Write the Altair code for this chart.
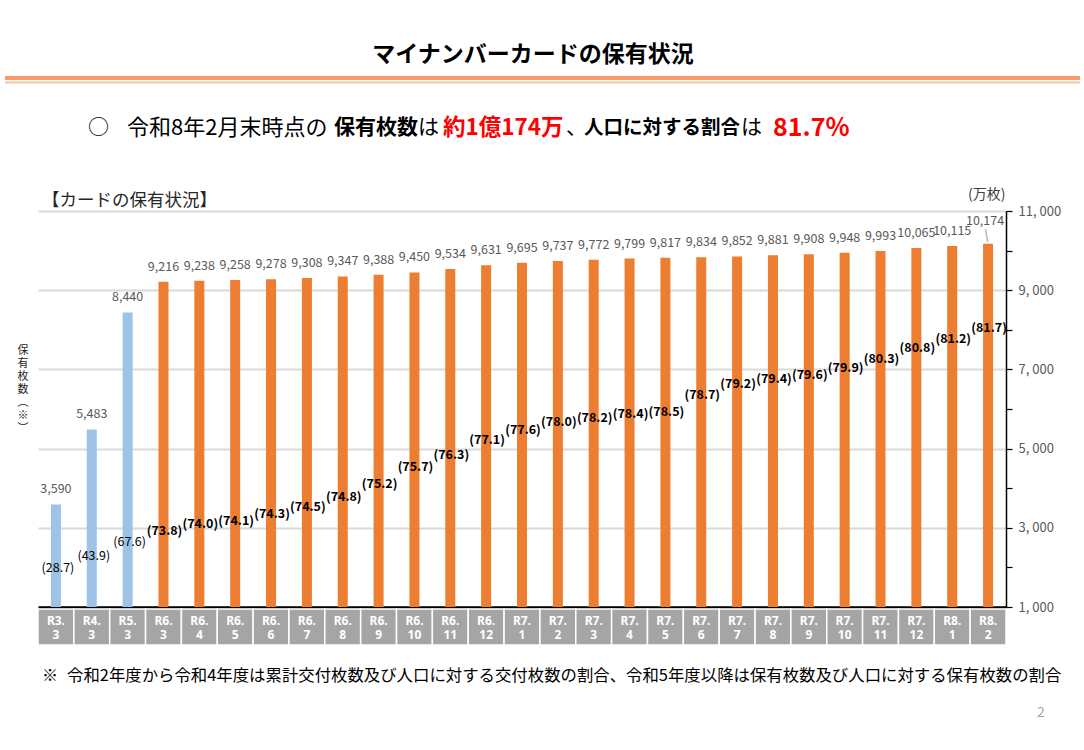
import altair as alt
import pandas as pd

# ---------------- data ----------------
period_year = ["R3.", "R4.", "R5."] + ["R6."] * 10 + ["R7."] * 12 + ["R8."] * 2
period_month = ["3", "3", "3",
                "3", "4", "5", "6", "7", "8", "9", "10", "11", "12",
                "1", "2", "3", "4", "5", "6", "7", "8", "9", "10", "11", "12",
                "1", "2"]
holdings = [3590, 5483, 8440,
            9216, 9238, 9258, 9278, 9308, 9347, 9388, 9450, 9534, 9631,
            9695, 9737, 9772, 9799, 9817, 9834, 9852, 9881, 9908, 9948, 9993, 10065,
            10115, 10174]
ratios = [28.7, 43.9, 67.6,
          73.8, 74.0, 74.1, 74.3, 74.5, 74.8, 75.2, 75.7, 76.3, 77.1,
          77.6, 78.0, 78.2, 78.4, 78.5, 78.7, 79.2, 79.4, 79.6, 79.9, 80.3, 80.8,
          81.2, 81.7]
kinds = ["交付"] * 3 + ["保有"] * 24
y_ticks = list(range(1000, 11001, 1000))

title_text = "マイナンバーカードの保有状況"
sub_parts = [  # (text, bold, red)
    ("○", False, False),
    ("令和8年2月末時点の", False, False),
    ("保有枚数", True, False),
    ("は", False, False),
    ("約1億174万", True, True),
    ("、", False, False),
    ("人口に対する割合", True, False),
    ("は", False, False),
    ("81.7%", True, True),
]
section_text = "【カードの保有状況】"
unit_text = "(万枚)"
ylabel_chars = ["保", "有", "枚", "数", "︵", "※", "︶"]
note_mark = "※"
note_text = "令和2年度から令和4年度は累計交付枚数及び人口に対する交付枚数の割合、令和5年度以降は保有枚数及び人口に対する保有枚数の割合"
page_no = "2"

df = pd.DataFrame({
    "year": period_year,
    "month": period_month,
    "holdings": holdings,
    "ratio": ratios,
    "kind": kinds,
})
df["cat"] = df["year"] + df["month"]
df["pct"] = ["(" + f"{r:.1f}" + ")" for r in ratios]
df["last"] = [i == len(holdings) - 1 for i in range(len(holdings))]
cats = list(df["cat"])

# ---------------- layout / style ----------------
W, H = 968, 396
FONT = "Noto Sans CJK JP"
BLUE = "#9DC3E6"
ORANGE = "#ED7D31"
PCT_DOMAIN = [28.7, 43.9, 67.6, 73.8, 75.7, 78.5, 78.7, 81.7]
PCT_RANGE = [357, 345, 331, 320, 256, 201, 184, 117]

xenc = alt.X("cat:N", sort=cats, scale=alt.Scale(paddingInner=0, paddingOuter=0),
             axis=alt.Axis(labels=False, ticks=False, title=None, grid=False,
                           domainColor="#000000", domainWidth=2.5))
yscale = alt.Scale(domain=[1000, 11000], nice=False, zero=False)

base = alt.Chart(df)

bars = base.mark_bar(size=10).encode(
    x=xenc,
    y=alt.Y("holdings:Q", scale=yscale,
            axis=alt.Axis(orient="right", values=y_ticks, title=None,
                          labelExpr="datum.value % 2000 == 1000 ? replace(format(datum.value, ','), ',', ', ') : ''",
                          gridOpacity={"condition": {"test": "datum.value % 2000 == 1000", "value": 1}, "value": 0},
                          gridColor="#D9D9D9", gridWidth=2,
                          domainColor="#000000", domainWidth=1.5,
                          tickColor="#000000", tickSize=6, tickWidth=1.2,
                          labelColor="#595959", labelFont=FONT, labelFontSize=13,
                          labelPadding=6)),
    y2=alt.datum(1000),
    color=alt.Color("kind:N", scale=alt.Scale(domain=["交付", "保有"], range=[BLUE, ORANGE]), legend=None),
)

value_labels = base.transform_filter("!datum.last").mark_text(
    baseline="bottom", dy=-8, fontSize=12.5, color="#595959", font=FONT).encode(
    x=alt.X("cat:N", sort=cats),
    y=alt.Y("holdings:Q", scale=yscale, axis=None),
    text=alt.Text("holdings:Q", format=","),
)
value_label_last = base.transform_filter("datum.last").mark_text(
    baseline="bottom", dy=-16, dx=-3, fontSize=12.5, color="#595959", font=FONT).encode(
    x=alt.X("cat:N", sort=cats),
    y=alt.Y("holdings:Q", scale=yscale, axis=None),
    text=alt.Text("holdings:Q", format=","),
)
leader = base.transform_filter("datum.last").mark_text(
    baseline="bottom", dy=-2, dx=0, fontSize=13, color="#A6A6A6", font="DejaVu Sans", angle=350).encode(
    x=alt.X("cat:N", sort=cats),
    y=alt.Y("holdings:Q", scale=yscale, axis=None),
    text=alt.value("|"),
)

pct_scale = alt.Scale(domain=PCT_DOMAIN, range=PCT_RANGE, zero=False, nice=False)
pct_blue = base.transform_filter("datum.kind == '交付'").mark_text(
    baseline="middle", dx=2, fontSize=12.5, color="#000000", font=FONT).encode(
    x=alt.X("cat:N", sort=cats),
    y=alt.Y("ratio:Q", scale=pct_scale, axis=None),
    text="pct:N",
)
pct_orange = base.transform_filter("datum.kind == '保有'").mark_text(
    baseline="middle", dx=1, fontSize=12.5, fontWeight="bold", color="#000000", font=FONT).encode(
    x=alt.X("cat:N", sort=cats),
    y=alt.Y("ratio:Q", scale=pct_scale, axis=None),
    text="pct:N",
)

boxes = base.mark_rect(color="#A5A5A5", stroke="#FFFFFF", strokeWidth=1.5).encode(
    x=alt.X("cat:N", sort=cats),
    y=alt.value(398), y2=alt.value(434),
)
box_year = base.mark_text(baseline="middle", fontSize=12, fontWeight="bold", color="#FFFFFF", font="Noto Sans").encode(
    x=alt.X("cat:N", sort=cats), y=alt.value(410), text="year:N")
box_month = base.mark_text(baseline="middle", fontSize=12, fontWeight="bold", color="#FFFFFF", font="Noto Sans").encode(
    x=alt.X("cat:N", sort=cats), y=alt.value(424), text="month:N")

one = alt.Data(values=[{"k": 1}])


def label(text, x, y, size, weight="normal", color="#000000", align="left", font=FONT, **kw):
    return alt.Chart(one).mark_text(align=align, baseline="middle", fontSize=size, fontWeight=weight,
                                    color=color, font=font, **kw).encode(
        x=alt.value(x), y=alt.value(y), text=alt.value(text))


def hline(x1, x2, y, color, width):
    return alt.Chart(one).mark_rule(color=color, strokeWidth=width).encode(
        x=alt.value(x1), x2=alt.value(x2), y=alt.value(y))


annotations = [
    label(title_text, 495, -156, 23, weight="bold", align="center"),
    hline(-33, 1042, -133, "#FF9966", 4),
    hline(-33, 1042, -128.5, "#FFC0A0", 2),
    label(section_text, 4, -10, 17.5, color="#262626"),
    label(unit_text, 930, -16, 14, color="#404040"),
    label(note_mark, 4, 465, 16, color="#000000"),
    label(note_text, 29, 465, 16.4, color="#000000"),
    label(page_no, 999, 502, 14, color="#A6A6A6"),
]
for i, ch in enumerate(ylabel_chars):
    annotations.append(label(ch, -15, 140 + i * 13, 11, color="#262626", align="center"))

sub_x = [50, 89, 296, 380, 405, 528, 546, 703, 735]
sub_size = [21, 22, 21, 21, 22.5, 21, 19.5, 21, 25]
for (txt, bold, red), x, s in zip(sub_parts, sub_x, sub_size):
    annotations.append(label(txt, x, -83, s,
                             weight="bold" if bold else "normal",
                             color="#FF0000" if red else "#000000"))

chart = alt.layer(
    bars, value_labels, value_label_last, leader, pct_blue, pct_orange, boxes, box_year, box_month, *annotations
).resolve_scale(y="independent").properties(
    width=W, height=H,
    autosize=alt.AutoSizeParams(type="none"),
    padding={"left": 38, "top": 211, "right": 78, "bottom": 143},
    background="#FFFFFF",
).configure_view(stroke=None).configure_text(font=FONT)

chart.save("out.html", embed_options={"renderer": "svg", "actions": False})
